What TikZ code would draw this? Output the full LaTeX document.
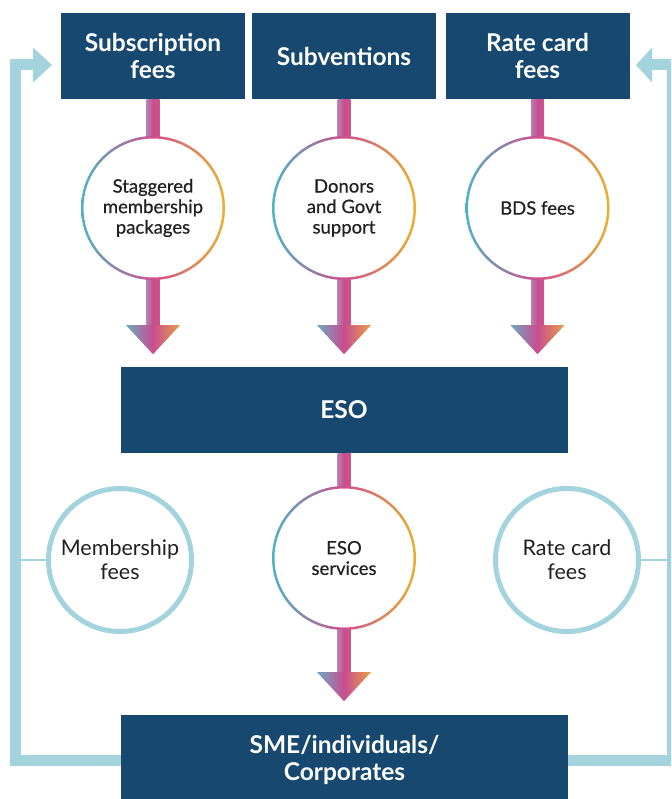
\documentclass[tikz,border=0pt]{standalone}
\usepackage{fontspec}
\setmainfont{Lato}
\usetikzlibrary{calc}
\definecolor{boxblue}{HTML}{17486F}
\definecolor{lightblue}{HTML}{A3D3DC}
\definecolor{ringteal}{HTML}{4DB3C6}
\definecolor{ringmag}{HTML}{CF4F8F}
\definecolor{ringyel}{HTML}{E8B230}
\definecolor{shaftl}{HTML}{B583B3}
\definecolor{shaftm}{HTML}{C94D8F}
\definecolor{shaftr}{HTML}{D0528D}
\definecolor{headl}{HTML}{6AAAC4}
\definecolor{headr}{HTML}{E8A047}
\definecolor{txt}{HTML}{231F20}
\tikzset{
  topbox/.style={fill=boxblue, text=white, font=\bfseries\fontsize{24.5}{27}\selectfont,
    align=center, inner sep=0pt, minimum width=184pt, minimum height=86pt},
  widebox/.style={fill=boxblue, text=white, font=\bfseries\fontsize{24.5}{27}\selectfont,
    align=center, inner sep=0pt, minimum width=447pt, minimum height=86pt},
  ringnode/.style={circle, inner sep=0pt, minimum size=144pt, align=center,
    text=txt, font=\addfontfeatures{FakeBold=0.5}\fontsize{18.5}{20.5}\selectfont},
  bluering/.style={circle, draw=lightblue, line width=5pt, inner sep=0pt,
    minimum size=143pt, align=center, text=txt, font=\fontsize{21.5}{24}\selectfont},
  shaftshade/.style={left color=shaftl, right color=shaftr, middle color=shaftm},
  headshade/.style={left color=headl, right color=headr, middle color=shaftm},
  ringshade/.style={even odd rule, left color=ringteal, right color=ringyel, middle color=ringmag},
  feedback/.style={draw=lightblue, line width=11pt, line join=miter},
  thinlink/.style={draw=lightblue, line width=1.3pt}
}
\newcommand{\ringaround}[1]{\shade[ringshade] (#1.center) circle (72pt) (#1.center) circle (69.5pt);}
\begin{document}
\begin{tikzpicture}[x=1pt,y=-1pt]
\useasboundingbox (0,0) rectangle (671,799);
\clip (0,0) rectangle (671,799);

% top boxes
\node[topbox] (b1) at (153,56) {Subscription\\fees};
\node[topbox] (b2) at (344,56) {Subventions};
\node[topbox] (b3) at (537.5,56) {Rate card\\fees};

% top circles
\node[ringnode] (c1) at (153,208) {Staggered\\membership\\packages};
\node[ringnode] (c2) at (344,208) {Donors\\and Govt\\support};
\node[ringnode] (c3) at (537.5,208) {BDS fees};

% ESO
\node[widebox] (eso) at (344,410) {ESO};

% bottom circles
\node[ringnode] (c4) at (344,558) {ESO\\services};
\node[bluering] (m) at (120,560) {Membership\\fees};
\node[bluering] (r) at (567,560) {Rate card\\fees};

% bottom box
\node[widebox, minimum height=90pt, anchor=north] (sme) at (344.5,715) {SME/individuals/\\Corporates};

% shafts and arrowheads
\foreach \b/\c in {b1/c1,b2/c2,b3/c3} {
  \shade[shaftshade] ($(\b.south)+(-6.5,0)$) rectangle ($(\c.north)+(6.5,2)$);
  \shade[shaftshade] ($(\c.south)+(-6.5,-2)$) rectangle ($(\c.south)+(6.5,47)$);
  \shade[headshade] ($(\c.south)+(-27,45)$) -- ($(\c.south)+(27,45)$) -- ($(\c.south)+(0,74)$) -- cycle;
}
\shade[shaftshade] ($(eso.south)+(-6.5,0)$) rectangle ($(c4.north)+(6.5,2)$);
\shade[shaftshade] ($(c4.south)+(-6.5,-2)$) rectangle ($(c4.south)+(6.5,44)$);
\shade[headshade] ($(c4.south)+(-27,42)$) -- ($(c4.south)+(27,42)$) -- ($(c4.south)+(0,71)$) -- cycle;
\foreach \c in {c1,c2,c3,c4} {\ringaround{\c}}

% feedback loops
\coordinate (lt) at (33,65);
\coordinate (rt) at (652,65);
\draw[feedback] (sme.west |- 0,760) -- (15.5,760) -- (15.5,65) -- (lt);
\fill[lightblue] (33,47.5) -- (52,65) -- (33,82.5) -- cycle;
\draw[feedback] (sme.east |- 0,760) -- (672,760) -- (672,65) -- (rt);
\fill[lightblue] (652,47.5) -- (636,65) -- (652,82.5) -- cycle;
\draw[thinlink] (15.5,560) -- (m.west);
\draw[thinlink] (r.east) -- (672,560);
\end{tikzpicture}
\end{document}
